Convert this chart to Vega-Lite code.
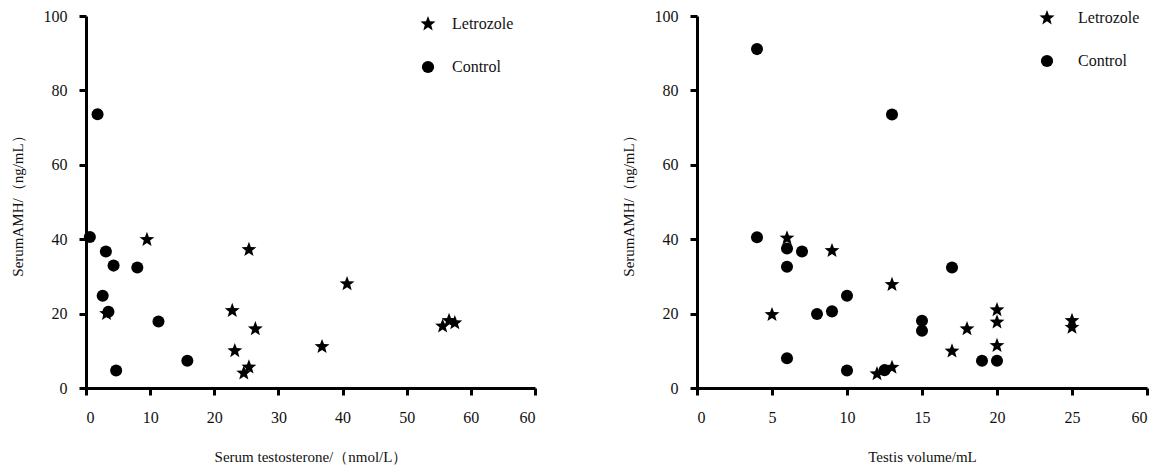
{
  "$schema": "https://vega.github.io/schema/vega-lite/v6.json",
  "padding": {"left": 10, "top": 8, "right": 5, "bottom": 5},
  "spacing": 84,
  "config": {
    "view": {"stroke": null},
    "axis": {
      "grid": false,
      "domainColor": "black",
      "domainWidth": 3,
      "tickColor": "black",
      "tickWidth": 3,
      "tickSize": 7,
      "labelFont": "Liberation Serif",
      "labelFontSize": 16,
      "labelColor": "#111",
      "titleFont": "Liberation Serif",
      "titleFontSize": 15,
      "titleFontWeight": "normal",
      "titleColor": "#111"
    },
    "legend": {
      "labelFont": "Liberation Serif",
      "labelFontSize": 16,
      "labelColor": "#111",
      "symbolSize": 150,
      "symbolFillColor": "black",
      "symbolStrokeColor": "black",
      "symbolStrokeWidth": 0,
      "symbolOpacity": 1,
      "rowPadding": 27,
      "padding": 0
    }
  },
  "resolve": {"scale": {"shape": "independent"}, "legend": {"shape": "independent"}},
  "hconcat": [
    {
      "width": 449,
      "height": 372,
      "data": {"values": [
        {"group": "Control", "tx": 0.6, "amh": 40.6},
        {"group": "Control", "tx": 1.8, "amh": 73.6},
        {"group": "Control", "tx": 3.1, "amh": 36.7},
        {"group": "Control", "tx": 4.3, "amh": 32.9},
        {"group": "Control", "tx": 8.0, "amh": 32.4},
        {"group": "Control", "tx": 2.6, "amh": 24.8},
        {"group": "Control", "tx": 3.5, "amh": 20.5},
        {"group": "Control", "tx": 11.3, "amh": 17.9},
        {"group": "Control", "tx": 15.8, "amh": 7.3},
        {"group": "Control", "tx": 4.7, "amh": 4.7},
        {"group": "Letrozole", "tx": 3.2, "amh": 20.0},
        {"group": "Letrozole", "tx": 9.5, "amh": 39.9},
        {"group": "Letrozole", "tx": 25.4, "amh": 37.2},
        {"group": "Letrozole", "tx": 22.8, "amh": 20.8},
        {"group": "Letrozole", "tx": 26.4, "amh": 15.9},
        {"group": "Letrozole", "tx": 23.2, "amh": 10.0},
        {"group": "Letrozole", "tx": 25.4, "amh": 5.6},
        {"group": "Letrozole", "tx": 24.6, "amh": 4.0},
        {"group": "Letrozole", "tx": 40.7, "amh": 28.0},
        {"group": "Letrozole", "tx": 36.8, "amh": 11.1},
        {"group": "Letrozole", "tx": 55.6, "amh": 16.6},
        {"group": "Letrozole", "tx": 56.6, "amh": 18.1},
        {"group": "Letrozole", "tx": 57.5, "amh": 17.5}
      ]},
      "mark": {"type": "point", "filled": true, "color": "black", "opacity": 1, "size": 145},
      "encoding": {
        "x": {
          "field": "tx", "type": "quantitative",
          "scale": {"domain": [0, 70], "nice": false},
          "axis": {
            "title": "Serum testosterone/（nmol/L）",
            "values": [0, 10, 20, 30, 40, 50, 60, 70],
            "labelExpr": "datum.value == 70 ? '60' : datum.label",
            "labelPadding": 14,
            "titlePadding": 24
          }
        },
        "y": {
          "field": "amh", "type": "quantitative",
          "scale": {"domain": [0, 100], "nice": false},
          "axis": {
            "title": "SerumAMH/（ng/mL）",
            "values": [0, 20, 40, 60, 80, 100],
            "labelPadding": 12,
            "titlePadding": 18
          }
        },
        "shape": {
          "field": "group", "type": "nominal",
          "scale": {
            "domain": ["Letrozole", "Control"],
            "range": ["M0,-1.3L0.323,-0.445L1.236,-0.402L0.523,0.17L0.764,1.052L0,0.55L-0.764,1.052L-0.523,0.17L-1.236,-0.402L-0.323,-0.445Z", "circle"]
          },
          "legend": {"title": null, "orient": "none", "legendX": 334, "legendY": 0, "labelOffset": 16}
        }
      }
    },
    {
      "width": 450,
      "height": 372,
      "data": {"values": [
        {"group": "Control", "vol": 4, "amh": 91.1},
        {"group": "Control", "vol": 13, "amh": 73.5},
        {"group": "Control", "vol": 4, "amh": 40.5},
        {"group": "Control", "vol": 6, "amh": 37.5},
        {"group": "Control", "vol": 7, "amh": 36.7},
        {"group": "Control", "vol": 6, "amh": 32.6},
        {"group": "Control", "vol": 8, "amh": 19.9},
        {"group": "Control", "vol": 9, "amh": 20.6},
        {"group": "Control", "vol": 10, "amh": 24.8},
        {"group": "Control", "vol": 6, "amh": 8.0},
        {"group": "Control", "vol": 10, "amh": 4.7},
        {"group": "Control", "vol": 12.5, "amh": 4.8},
        {"group": "Control", "vol": 17, "amh": 32.4},
        {"group": "Control", "vol": 15, "amh": 18.1},
        {"group": "Control", "vol": 15, "amh": 15.4},
        {"group": "Control", "vol": 19, "amh": 7.3},
        {"group": "Control", "vol": 20, "amh": 7.3},
        {"group": "Letrozole", "vol": 6, "amh": 40.3},
        {"group": "Letrozole", "vol": 9, "amh": 36.9},
        {"group": "Letrozole", "vol": 13, "amh": 27.8},
        {"group": "Letrozole", "vol": 5, "amh": 19.7},
        {"group": "Letrozole", "vol": 12, "amh": 3.8},
        {"group": "Letrozole", "vol": 13, "amh": 5.5},
        {"group": "Letrozole", "vol": 18, "amh": 15.9},
        {"group": "Letrozole", "vol": 17, "amh": 9.9},
        {"group": "Letrozole", "vol": 20, "amh": 21.0},
        {"group": "Letrozole", "vol": 20, "amh": 17.7},
        {"group": "Letrozole", "vol": 20, "amh": 11.4},
        {"group": "Letrozole", "vol": 25, "amh": 18.1},
        {"group": "Letrozole", "vol": 25, "amh": 16.3}
      ]},
      "mark": {"type": "point", "filled": true, "color": "black", "opacity": 1, "size": 145},
      "encoding": {
        "x": {
          "field": "vol", "type": "quantitative",
          "scale": {"domain": [0, 30], "nice": false},
          "axis": {
            "title": "Testis volume/mL",
            "values": [0, 5, 10, 15, 20, 25, 30],
            "labelExpr": "datum.value == 30 ? '60' : datum.label",
            "labelPadding": 14,
            "titlePadding": 24
          }
        },
        "y": {
          "field": "amh", "type": "quantitative",
          "scale": {"domain": [0, 100], "nice": false},
          "axis": {
            "title": "SerumAMH/（ng/mL）",
            "values": [0, 20, 40, 60, 80, 100],
            "labelPadding": 12,
            "titlePadding": 18
          }
        },
        "shape": {
          "field": "group", "type": "nominal",
          "scale": {
            "domain": ["Letrozole", "Control"],
            "range": ["M0,-1.3L0.323,-0.445L1.236,-0.402L0.523,0.17L0.764,1.052L0,0.55L-0.764,1.052L-0.523,0.17L-1.236,-0.402L-0.323,-0.445Z", "circle"]
          },
          "legend": {"title": null, "orient": "none", "legendX": 342, "legendY": -6, "labelOffset": 23}
        }
      }
    }
  ]
}
